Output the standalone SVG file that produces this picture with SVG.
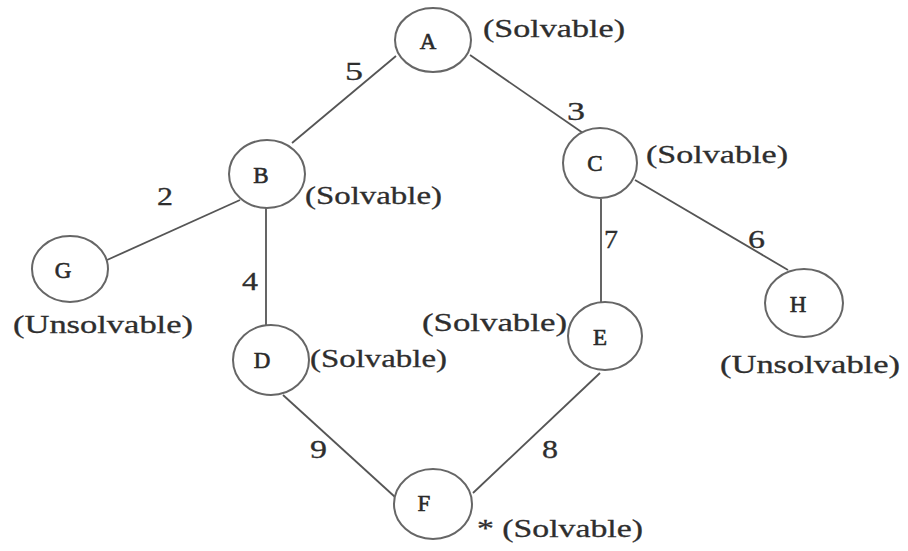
<svg xmlns="http://www.w3.org/2000/svg" width="908" height="551" viewBox="0 0 908 551">
<style>
.bg{fill:#ffffff}
.edge{stroke:#555555;stroke-width:1.8;fill:none}
.node ellipse{fill:#ffffff;stroke:#666666;stroke-width:2}
text{font-family:'Liberation Serif',serif}
.letter{font-size:23px;fill:#2a2a2a;stroke:#2a2a2a;stroke-width:0.6;text-anchor:middle}
.lbl{font-size:26px;fill:#2e2e2e;stroke:#2e2e2e;stroke-width:0.3}
.num{font-size:26px;fill:#2e2e2e;stroke:#2e2e2e;stroke-width:0.3}
</style>
<rect class="bg" x="0" y="0" width="908" height="551"/>
<g id="connectors">
<line class="edge" x1="396" y1="56" x2="292" y2="143"/>
<line class="edge" x1="470" y1="55" x2="583" y2="133"/>
<line class="edge" x1="240" y1="200" x2="107" y2="260"/>
<line class="edge" x1="266" y1="208" x2="266" y2="327"/>
<line class="edge" x1="601" y1="199" x2="601" y2="303"/>
<line class="edge" x1="635" y1="180" x2="788" y2="270"/>
<line class="edge" x1="283" y1="395" x2="395" y2="497"/>
<line class="edge" x1="600" y1="373" x2="473" y2="493"/>
<text class="num" x="345" y="80" textLength="18" lengthAdjust="spacingAndGlyphs">5</text>
<text class="num" x="567" y="120" textLength="18" lengthAdjust="spacingAndGlyphs">3</text>
<text class="num" x="157" y="205" textLength="16" lengthAdjust="spacingAndGlyphs">2</text>
<text class="num" x="242" y="290" textLength="16" lengthAdjust="spacingAndGlyphs">4</text>
<text class="num" x="604" y="248" textLength="14" lengthAdjust="spacingAndGlyphs">7</text>
<text class="num" x="748" y="248" textLength="17" lengthAdjust="spacingAndGlyphs">6</text>
<text class="num" x="310" y="458" textLength="17" lengthAdjust="spacingAndGlyphs">9</text>
<text class="num" x="542" y="458" textLength="16" lengthAdjust="spacingAndGlyphs">8</text>
</g>
<g id="node-A" class="node">
<ellipse cx="433" cy="40" rx="38" ry="32"/>
<text class="letter" x="428" y="49">A</text>
<text class="lbl" x="483" y="37" textLength="142" lengthAdjust="spacingAndGlyphs">(Solvable)</text>
</g>
<g id="node-B" class="node">
<ellipse cx="267" cy="174" rx="38" ry="34"/>
<text class="letter" x="261" y="183">B</text>
<text class="lbl" x="305" y="204" textLength="137" lengthAdjust="spacingAndGlyphs">(Solvable)</text>
</g>
<g id="node-C" class="node">
<ellipse cx="600" cy="163" rx="37" ry="35"/>
<text class="letter" x="595" y="171">C</text>
<text class="lbl" x="646" y="163" textLength="142" lengthAdjust="spacingAndGlyphs">(Solvable)</text>
</g>
<g id="node-G" class="node">
<ellipse cx="70" cy="269" rx="38" ry="33"/>
<text class="letter" x="63" y="278">G</text>
<text class="lbl" x="13" y="333" textLength="180" lengthAdjust="spacingAndGlyphs">(Unsolvable)</text>
</g>
<g id="node-D" class="node">
<ellipse cx="271" cy="360" rx="38" ry="35"/>
<text class="letter" x="262" y="368">D</text>
<text class="lbl" x="310" y="367" textLength="137" lengthAdjust="spacingAndGlyphs">(Solvable)</text>
</g>
<g id="node-E" class="node">
<ellipse cx="605" cy="336" rx="37" ry="34"/>
<text class="letter" x="600" y="345">E</text>
<text class="lbl" x="422" y="331" textLength="145" lengthAdjust="spacingAndGlyphs">(Solvable)</text>
</g>
<g id="node-H" class="node">
<ellipse cx="804" cy="303" rx="39" ry="34"/>
<text class="letter" x="798" y="312">H</text>
<text class="lbl" x="720" y="373" textLength="180" lengthAdjust="spacingAndGlyphs">(Unsolvable)</text>
</g>
<g id="node-F" class="node">
<ellipse cx="433" cy="504" rx="39" ry="35"/>
<text class="letter" x="424" y="511">F</text>
<text class="lbl" x="477" y="537" textLength="166" lengthAdjust="spacingAndGlyphs">* (Solvable)</text>
</g>
</svg>
